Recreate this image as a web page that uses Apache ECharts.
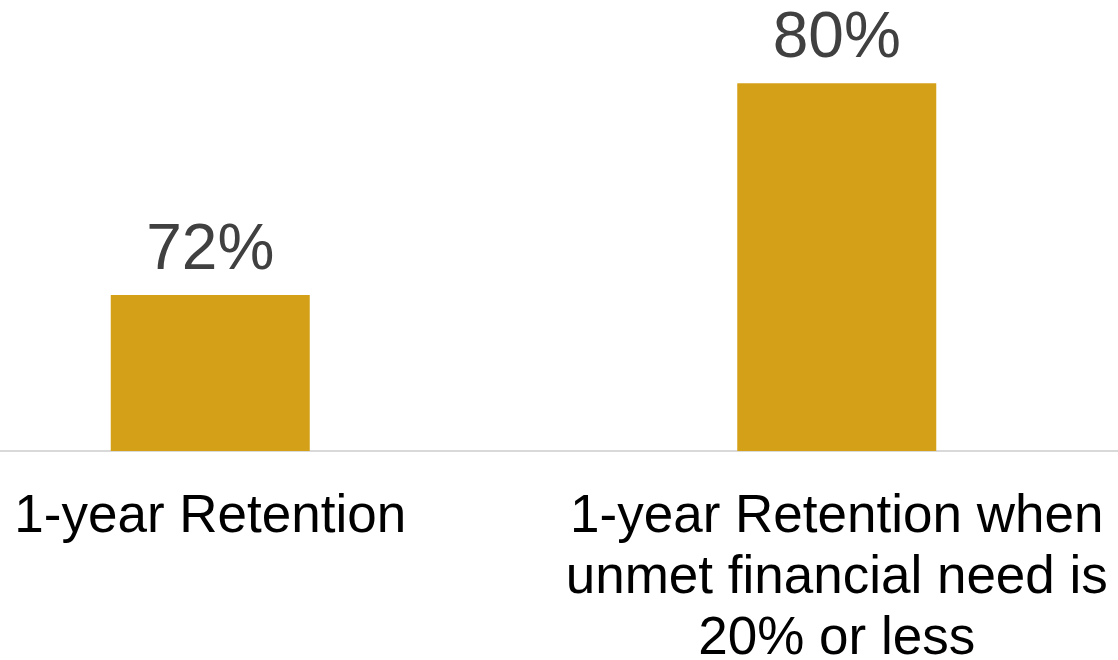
<!DOCTYPE html>
<html>
<head>
<meta charset="utf-8">
<script src="https://cdn.jsdelivr.net/npm/echarts@6/dist/echarts.min.js"></script>
<style>
  html, body { margin: 0; padding: 0; background: #ffffff; }
  #chart { width: 1118px; height: 660px; }
</style>
</head>
<body>
<div id="chart"></div>
<script>
// Retention rates, overall vs. students with low unmet financial need
const categories = [
  '1-year Retention',
  '1-year Retention when\nunmet financial need is\n20% or less'
];
const retentionPct = [72, 80];

const chart = echarts.init(document.getElementById('chart'), null, { renderer: 'canvas' });

chart.setOption({
  animation: false,
  backgroundColor: '#ffffff',
  grid: {
    left: -103,
    right: -32,
    top: 0,
    bottom: 209,
    containLabel: false,
    outerBoundsMode: 'none'
  },
  xAxis: {
    type: 'category',
    data: categories,
    axisLine: { show: true, lineStyle: { color: '#d9d9d9', width: 2 } },
    axisTick: { show: false },
    axisLabel: {
      interval: 0,
      hideOverlap: false,
      margin: 36,
      color: '#000000',
      fontFamily: 'Liberation Sans, Arial, sans-serif',
      fontSize: 53,
      lineHeight: 61,
      align: 'center'
    }
  },
  yAxis: {
    type: 'value',
    min: 66.1,
    max: 83.15,
    show: false,
    splitLine: { show: false }
  },
  series: [{
    type: 'bar',
    data: retentionPct,
    barWidth: 199,
    itemStyle: { color: '#D4A017' },
    label: {
      show: true,
      position: 'top',
      distance: 12,
      formatter: '{c}%',
      color: '#404040',
      fontFamily: 'Liberation Sans, Arial, sans-serif',
      fontSize: 64
    }
  }]
});
</script>
</body>
</html>
